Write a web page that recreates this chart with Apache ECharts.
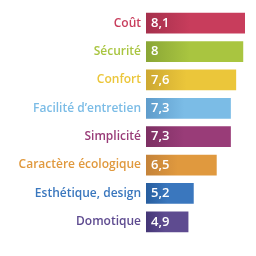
<!DOCTYPE html>
<html><head><meta charset="utf-8">
<script src="https://cdn.jsdelivr.net/npm/echarts@6/dist/echarts.min.js"></script>
<style>html,body{margin:0;padding:0;background:#fff}#c{width:256px;height:256px}</style>
</head><body><div id="c"></div>
<script>
const categories = ["Coût","Sécurité","Confort","Facilité d’entretien","Simplicité","Caractère écologique","Esthétique, design","Domotique"];
const values = [8.1, 8, 7.6, 7.3, 7.3, 6.5, 5.2, 4.9];
const valueLabels = ["8,1","8","7,6","7,3","7,3","6,5","5,2","4,9"];
const colors = ["#c83d5c","#a9c540","#ebc63a","#7bbce6","#993c78","#e0993e","#3a77be","#5e4b90"];
const darkColors = ["#a5304c","#8aa636","#cda832","#5f9ccb","#7d3063","#c4833a","#275d9e","#443676"];

const chart = echarts.init(document.getElementById('c'));
chart.setOption({
  animation:false,
  grid:{left:146, right:11, top:9, bottom:20},
  xAxis:{type:'value', min:2.5, max:8.1, show:false},
  yAxis:{type:'category', data:categories, inverse:true,
    axisLine:{show:false}, axisTick:{show:false},
    axisLabel:{margin:5, fontFamily:'Open Sans', fontWeight:600, fontSize:12,
      color:function(v,i){return colors[i];}}},
  series:[{type:'bar', barCategoryGap:'27%',
    data: values.map((v,i)=>({value:v, itemStyle:{color:new echarts.graphic.LinearGradient(0,0,1,0,[
      {offset:0,color:darkColors[i]},{offset:0.45,color:colors[i]},{offset:1,color:colors[i]}])}})),
    label:{show:true, position:'insideLeft', distance:5, color:'#fff', fontFamily:'Open Sans', fontWeight:600, fontSize:13,
      formatter:function(p){return valueLabels[p.dataIndex];}}
  }]
});
</script></body></html>
